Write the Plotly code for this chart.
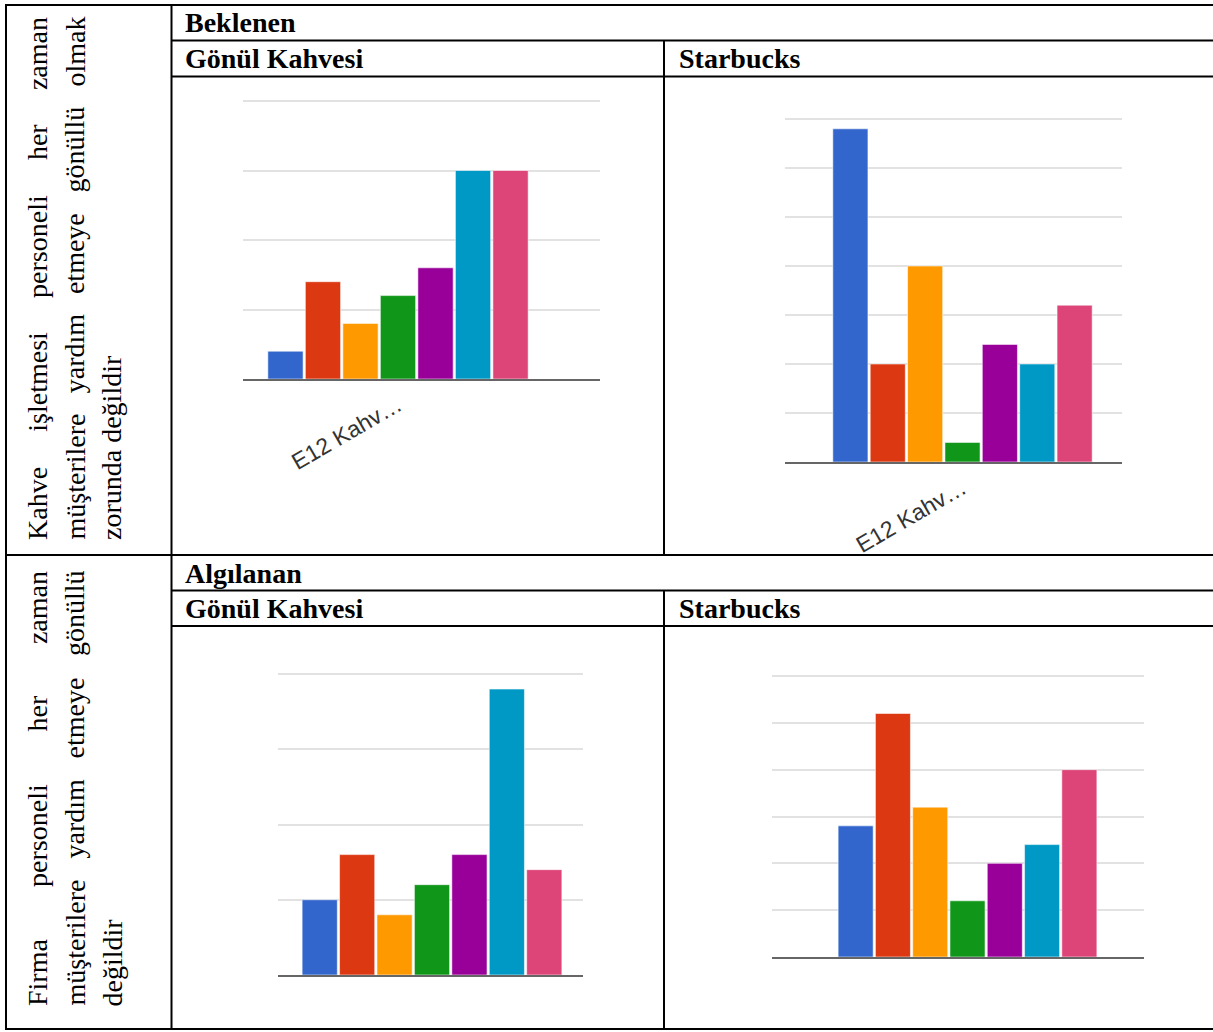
import plotly.graph_objects as go

W, H = 1213, 1032

# ---------------- data ----------------
category = ["E12 Kahv…"]
series_names = ["Seri 1", "Seri 2", "Seri 3", "Seri 4", "Seri 5", "Seri 6", "Seri 7"]
series_colors = ["#3366cc", "#dc3912", "#ff9900", "#109618", "#990099", "#0099c6", "#dd4477"]

beklenen_gonul = [2, 7, 4, 6, 8, 15, 15]
beklenen_starbucks = [34, 10, 20, 2, 12, 10, 16]
algilanan_gonul = [5, 8, 4, 6, 8, 19, 7]
algilanan_starbucks = [14, 26, 16, 6, 10, 12, 20]

axis_max = [20, 35, 20, 30]
axis_step = 5

row_titles = ["Beklenen", "Algılanan"]
col_titles = ["Gönül Kahvesi", "Starbucks"]

row1_lines = [
    ["Kahve", "işletmesi", "personeli", "her", "zaman"],
    ["müşterilere", "yardım", "etmeye", "gönüllü", "olmak"],
    ["zorunda değildir"],
]
row2_lines = [
    ["Firma", "personeli", "her", "zaman"],
    ["müşterilere", "yardım", "etmeye", "gönüllü"],
    ["değildir"],
]

# ---------------- helpers ----------------
def px(x):
    return x / W

def py(y):
    return 1 - y / H

SERIF = "Liberation Serif, Times New Roman, serif"
FS = 28

CW = {'a': 444, 'b': 500, 'c': 444, 'd': 500, 'e': 444, 'f': 333, 'g': 500, 'h': 500,
      'i': 278, 'ı': 278, 'k': 500, 'l': 278, 'm': 778, 'n': 500, 'o': 500, 'p': 500,
      'r': 333, 's': 389, 'ş': 389, 't': 278, 'u': 500, 'ü': 500, 'v': 500, 'y': 500,
      'z': 444, 'ğ': 500, 'ö': 500, 'K': 722, 'F': 556, ' ': 250}

def tw(s):
    return sum(CW.get(c, 500) for c in s) / 1000 * FS

fig = go.Figure()

# ---------------- charts ----------------
charts = [
    # values, x0, x1, y_base, y_top, center, group width, show label
    (beklenen_gonul, 243, 600, 379, 101, 398, 262.6, True),
    (beklenen_starbucks, 785, 1122, 462, 119, 962.5, 261.6, True),
    (algilanan_gonul, 278, 583, 975, 674, 432, 262, False),
    (algilanan_starbucks, 772, 1144, 957, 676, 967.5, 261, False),
]

layout_axes = {}
for k, (vals, x0, x1, yb, yt, cx, gw, show_lab) in enumerate(charts):
    idx = "" if k == 0 else str(k + 1)
    for i, v in enumerate(vals):
        fig.add_trace(go.Bar(
            x=category, y=[v], name=series_names[i],
            marker=dict(color=series_colors[i], line=dict(color="rgba(255,255,255,0.55)", width=1)),
            xaxis="x" + idx, yaxis="y" + idx, showlegend=False,
        ))
    left = (cx - x0) / gw
    right = (x1 - cx) / gw
    pad_px = 3
    eps = axis_max[k] * pad_px / (yb - yt)
    layout_axes["xaxis" + idx] = dict(
        domain=[px(x0), px(x1)], anchor="y" + idx, type="category",
        range=[-left, right], showgrid=False, zeroline=False,
        showline=True, linecolor="#666666", linewidth=2,
        ticks="", showticklabels=show_lab, tickangle=-30,
        tickfont=dict(family="Arial, Liberation Sans, sans-serif", size=23, color="#333333"),
        ticklabelstandoff=2,
    )
    layout_axes["yaxis" + idx] = dict(
        domain=[py(yb), py(yt - pad_px)], anchor="x" + idx, range=[0, axis_max[k] + eps],
        dtick=axis_step, tick0=0, showgrid=True, gridcolor="#e2e2e2", gridwidth=2,
        zeroline=False, showticklabels=False, ticks="", showline=False,
    )

# ---------------- table lines ----------------
shapes = []
def hline(y, xa, xb):
    shapes.append(dict(type="line", xref="paper", yref="paper", x0=px(xa), x1=px(xb),
                       y0=py(y), y1=py(y), line=dict(color="black", width=2), layer="above"))

def vline(x, ya, yb):
    shapes.append(dict(type="line", xref="paper", yref="paper", x0=px(x), x1=px(x),
                       y0=py(ya), y1=py(yb), line=dict(color="black", width=2), layer="above"))

hline(5, 5, W + 2)
hline(40.5, 171, W + 2)
hline(76.5, 171, W + 2)
hline(555, 5, W + 2)
hline(590.5, 171, W + 2)
hline(626, 171, W + 2)
hline(1029, 5, W + 2)
vline(6, 4, 1030)
vline(171.5, 4, 1030)
vline(664, 40.5, 555)
vline(664, 590.5, 1030)

# ---------------- header texts ----------------
ann = []
def header(text, x, y):
    ann.append(dict(text="<b>" + text + "</b>", x=px(x), y=py(y), xref="paper", yref="paper",
                    xanchor="left", yanchor="middle", showarrow=False, borderpad=0,
                    font=dict(family=SERIF, size=FS, color="black")))

header(row_titles[0], 184, 22.5)
header(col_titles[0], 184, 58.5)
header(col_titles[1], 678, 58.5)
header(row_titles[1], 184, 573)
header(col_titles[0], 184, 608.5)
header(col_titles[1], 678, 608.5)

# ---------------- rotated left-column texts ----------------
def rot_word(text, xc, ybottom):
    ann.append(dict(text=text, x=px(xc), y=py(ybottom), xref="paper", yref="paper",
                    xanchor="center", yanchor="bottom", textangle=-90, showarrow=False,
                    borderpad=0, font=dict(family=SERIF, size=FS, color="black")))

def rot_block(lines, ybot, ytop, xcs):
    for li, words in enumerate(lines):
        xc = xcs[li]
        if li == len(lines) - 1:
            rot_word(" ".join(words), xc, ybot)
            continue
        total = sum(tw(w) for w in words)
        gap = (ybot - ytop - total) / (len(words) - 1)
        y = ybot
        for w in words:
            rot_word(w, xc, y)
            y -= tw(w) + gap

line_x = [37.5, 74.5, 111.5]
rot_block(row1_lines, 541, 18, line_x)
rot_block(row2_lines, 1007, 572, line_x)

fig.update_layout(
    width=W, height=H, autosize=False,
    margin=dict(l=0, r=0, t=0, b=0),
    paper_bgcolor="white", plot_bgcolor="white",
    barmode="group", bargap=0, bargroupgap=0.06,
    shapes=shapes, annotations=ann, showlegend=False,
    **layout_axes,
)

fig.write_html("out.html")
